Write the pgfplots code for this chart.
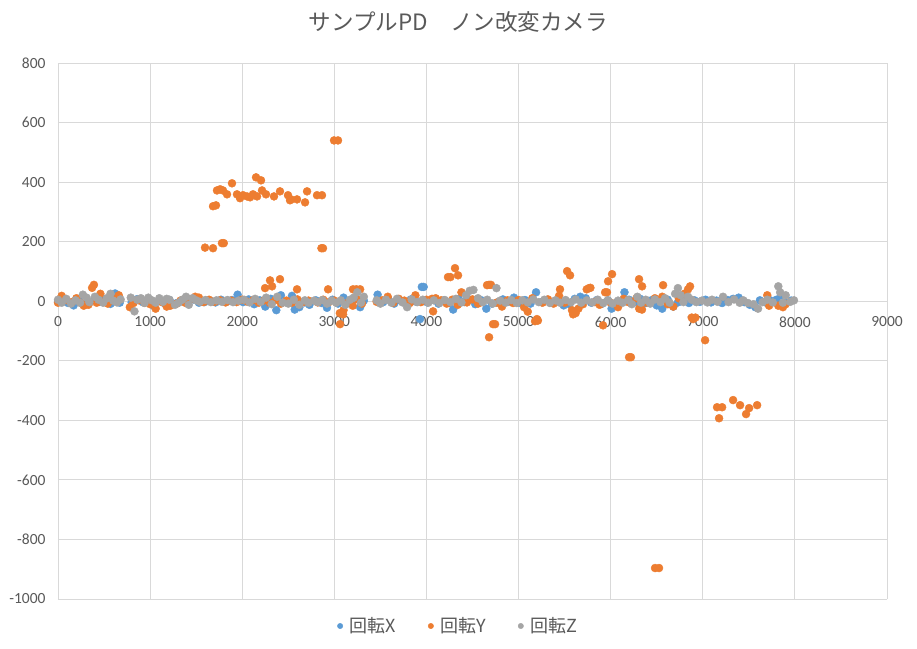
\documentclass[border=0pt]{standalone}
\usepackage{fontspec}
\setmainfont{Carlito}
\newfontfamily\cjk{Noto Sans CJK JP}
\usepackage{pgfplots}
\pgfplotsset{compat=1.18}
\definecolor{serX}{HTML}{5B9BD5}
\definecolor{serY}{HTML}{ED7D31}
\definecolor{serZ}{HTML}{A5A5A5}
\definecolor{gridc}{HTML}{D9D9D9}
\definecolor{txt}{HTML}{595959}
\begin{document}
\begin{tikzpicture}
\path[use as bounding box] (-58pt,-49pt) rectangle (859pt,599pt);
\begin{axis}[
    scale only axis,
    width=829pt, height=536pt,
    xmin=0, xmax=9000,
    ymin=-1000, ymax=800,
    xtick={0,1000,...,9000},
    ytick={-1000,-800,...,800},
    axis x line=middle,
    axis y line=left,
    x axis line style={draw=gridc, line width=0.8pt, -},
    y axis line style={draw=none},
    hide obscured x ticks=false,
    hide obscured y ticks=false,
    major tick length=0pt,
    grid=major,
    major grid style={draw=gridc, line width=0.8pt},
    /pgf/number format/assume math mode=true,
    /pgf/number format/1000 sep={},
    ticklabel style={font=\fontsize{15.5}{18}\selectfont, text=txt},
    xticklabel style={yshift=-12pt},
    yticklabel style={xshift=-9pt},
    title={サンプルPD　ノン改変カメラ},
    title style={at={(0.483,1)}, anchor=center, yshift=35pt,
        font=\cjk\fontsize{22.5}{26}\selectfont, text=txt},
    legend style={at={(0.483,0)}, anchor=center, yshift=-27pt, draw=none,
        font=\cjk\fontsize{18}{20}\selectfont, text=txt,
        legend columns=3,
        /tikz/every odd column/.append style={column sep=5pt},
        /tikz/every even column/.append style={column sep=30pt}},
    legend image post style={mark size=2.7pt},
    clip=false,
]
% 回転X
\addplot[only marks, mark=*, color=serX, mark size=4pt] coordinates {
(0,-2)(50,3)(110,-6)(170,-14)(230,2)(290,-10)(340,-4)(400,8)(450,-2)(510,6)(570,-9)(620,26)(670,-5)
(800,-4)(860,7)(920,-3)(980,5)(1040,-16)(1100,2)(1160,-8)(1210,4)
(1290,-6)(1350,3)(1410,-2)(1470,6)(1530,-5)(1590,-3)(1650,2)(1710,-4)(1770,5)(1830,-2)(1890,4)(1950,22)(2010,-3)(2070,6)(2130,-10)(2190,3)(2250,-18)(2310,8)(2370,-30)(2420,20)(2480,-4)(2540,18)(2570,-28)(2620,-20)(2680,-4)(2730,-12)
(2800,3)(2860,-6)(2920,-22)(2980,5)(3040,-8)(3100,12)(3160,-4)(3220,6)(3280,-20)(3320,2)
(3470,22)(3530,-3)(3590,5)(3650,-8)(3710,3)(3770,-5)(3830,6)(3890,-2)(3950,48)(3970,48)(3930,-60)(4010,-4)(4070,5)(4130,-8)(4190,3)(4250,-6)(4290,-28)(4350,8)(4410,-3)(4470,5)(4530,-10)(4590,4)(4650,-25)(4710,-8)(4770,-4)(4830,6)(4890,-2)(4950,12)(5010,-5)(5070,4)(5130,-8)(5190,30)(5250,-3)(5310,5)(5370,-6)(5430,4)(5490,-14)(5550,-10)(5610,8)(5670,15)(5730,10)(5790,-5)(5850,4)(5910,-8)(5970,3)(6010,-25)(6070,-3)(6150,30)(6200,5)(6260,-4)(6320,8)(6380,-6)(6440,3)(6500,-14)(6560,-25)(6620,5)(6680,-18)(6730,-4)(6790,12)(6850,-6)(6910,3)(6970,-2)(7030,5)(7090,-4)(7150,2)(7210,-6)(7270,4)(7330,8)(7390,12)(7450,-3)(7510,-12)(7570,-20)(7620,3)(7680,-4)(7740,2)(7800,5)(7850,20)(7900,-5)(7960,2)
};
\addlegendentry{回転X}
% 回転Y
\addplot[only marks, mark=*, color=serY, mark size=4pt] coordinates {
(0,-5)(40,18)(90,4)(150,-3)(200,10)(250,-6)(280,-15)(330,-12)(370,45)(390,55)(420,-5)(460,25)(490,-2)(540,-8)(590,5)(630,8)(660,20)
(780,-20)(820,-6)(880,3)(940,-5)(1000,-10)(1060,-25)(1120,-2)(1180,-18)(1220,-15)
(1290,-8)(1330,2)(1380,-5)(1430,6)(1490,15)(1530,12)(1580,-3)(1640,5)(1700,-2)(1760,3)(1820,-4)(1880,2)(1940,-3)(2000,5)(2060,-2)(2120,4)(2180,-5)(2240,3)(2300,-6)(2360,4)(2420,-8)(2480,2)(2540,-5)(2600,6)(2660,-3)(2720,2)
(2820,-4)(2880,5)(2940,-3)(3000,2)(3060,-40)(3100,-30)(3150,-5)(3200,-15)(3260,5)(3300,-8)
(3460,-2)(3520,3)(3580,15)(3640,-5)(3700,8)(3760,2)(3820,-6)(3880,20)(3940,-3)(4000,5)(4060,8)(4100,10)(4160,3)(4220,-8)(4280,5)(4340,-12)(4380,30)(4440,-4)(4500,6)(4560,-8)(4600,-3)(4680,55)(4700,55)(4760,-5)(4820,-18)(4880,3)(4940,-6)(5000,4)(5060,-20)(5100,-35)(5150,10)(5200,-60)(5210,-65)(5260,-5)(5320,6)(5380,-8)(5440,18)(5450,40)(5500,-5)(5580,-30)(5620,-40)(5650,-25)(5700,-10)(5740,40)(5780,45)(5830,-3)(5880,-12)(5940,30)(5960,30)(6000,-5)(6080,-20)(6140,8)(6200,-4)(6280,10)(6310,-25)(6340,-28)(6400,-5)(6480,10)(6560,15)(6620,-10)(6680,-18)(6740,10)(6800,25)(6840,40)(6880,-55)(6920,-55)
(7700,20)(7720,-15)(7820,-15)(7870,-20)(7900,-10)
(1596,180)(1683,178)(1683,319)(1715,322)(1780,195)(1800,195)
(1726,372)(1760,376)(1791,372)(1835,359)(1889,396)(1943,359)(1976,346)(2009,356)(2052,352)(2085,349)(2117,359)(2150,416)(2161,352)(2204,406)(2215,372)(2258,359)(2345,352)(2410,369)(2497,356)(2519,339)(2530,342)(2595,342)(2682,332)(2704,369)(2812,356)(2866,356)(2877,178)(2860,178)
(2997,540)(3040,540)
(2248,44)(2302,70)(2324,50)(2410,74)(2595,40)(2932,40)(3062,-77)(3095,-44)(3203,40)(3240,40)(3280,40)
(4072,-34)(4234,81)(4260,81)(4310,111)(4343,87)(4658,54)(4723,-77)(4745,-77)(4680,-121)
(5179,-67)(5527,101)(5559,87)(5592,-44)(5765,44)(5917,-81)(5972,67)(6015,91)(6200,-188)(6220,-188)(6308,74)(6341,50)(6569,54)(6862,50)(6895,-60)
(7025,-131)(7155,-356)(7210,-356)(7177,-393)(7329,-332)(7405,-349)(7470,-379)(7503,-359)(7590,-349)(6482,-896)(6525,-896)
};
\addlegendentry{回転Y}
% 回転Z
\addplot[only marks, mark=*, color=serZ, mark size=4pt] coordinates {
(0,5)(40,-5)(90,8)(140,-8)(190,3)(240,-5)(270,22)(310,12)(340,-3)(400,15)(440,5)(490,-5)(530,10)(570,25)(600,2)(640,-4)(680,6)
(790,12)(830,-34)(860,5)(900,10)(940,-6)(980,12)(1020,3)(1060,-5)(1100,10)(1140,-2)(1180,8)(1210,5)
(1270,-12)(1310,-5)(1350,5)(1390,15)(1420,-12)(1460,10)(1500,3)(1540,-2)(1600,4)(1660,-3)(1720,3)(1780,-2)(1840,4)(1900,-3)(1960,2)(2020,5)(2080,-4)(2140,8)(2200,-2)(2260,12)(2320,-10)(2380,15)(2440,-5)(2500,-8)(2560,5)(2620,-12)(2680,3)(2720,-5)
(2780,2)(2820,-3)(2870,4)(2920,-8)(2970,2)(3020,-5)(3070,3)(3120,-12)(3170,5)(3210,12)(3250,30)(3290,-5)(3320,15)
(3460,3)(3500,-8)(3560,5)(3620,-5)(3680,8)(3740,-4)(3790,-20)(3840,6)(3900,-3)(3960,5)(4020,-5)(4080,3)(4140,-6)(4200,4)(4260,-3)(4320,8)(4380,-4)(4430,20)(4470,35)(4510,38)(4560,10)(4610,-3)(4660,5)(4720,-8)(4760,44)(4800,2)(4860,-5)(4920,4)(4980,-6)(5040,3)(5100,-4)(5160,6)(5220,-3)(5280,5)(5340,-6)(5400,3)(5450,-5)(5510,4)(5570,-3)(5620,6)(5680,-5)(5740,3)(5800,-4)(5860,5)(5920,-6)(5970,3)(6020,-8)(6080,2)(6130,-5)(6190,4)(6230,-10)(6290,15)(6330,-5)(6380,5)(6430,-8)(6480,6)(6540,-3)(6590,10)(6640,-5)(6700,25)(6730,44)(6760,20)(6790,-3)(6840,15)(6880,5)(6930,-3)(6990,2)(7050,-4)(7100,5)(7160,-2)(7220,15)(7280,-3)(7340,6)(7400,-5)(7440,3)(7490,-6)(7550,-10)(7600,-25)(7650,-3)(7700,5)(7760,-4)(7820,50)(7840,30)(7870,-5)(7900,20)(7950,-2)(7990,3)
};
\addlegendentry{回転Z}
\end{axis}
\end{tikzpicture}
\end{document}
